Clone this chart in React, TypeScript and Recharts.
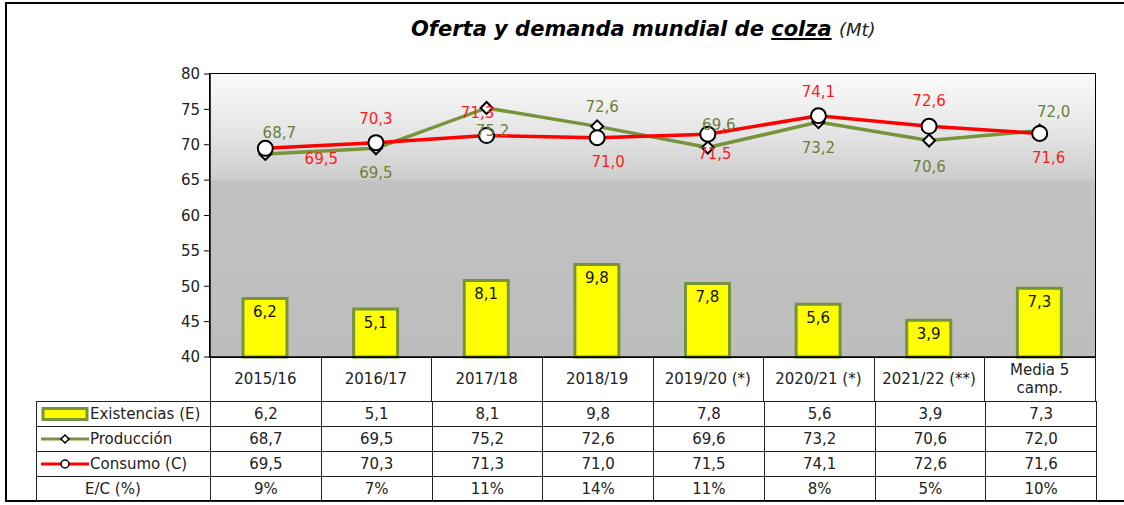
import React from 'react';
import {
  Bar,
  CartesianGrid,
  ComposedChart,
  LabelList,
  Line,
  XAxis,
  YAxis,
} from 'recharts';

const categories = [
  '2015/16',
  '2016/17',
  '2017/18',
  '2018/19',
  '2019/20 (*)',
  '2020/21 (*)',
  '2021/22 (**)',
  'Media 5\ncamp.',
];
const existencias = [6.2, 5.1, 8.1, 9.8, 7.8, 5.6, 3.9, 7.3];
const produccion = [68.7, 69.5, 75.2, 72.6, 69.6, 73.2, 70.6, 72.0];
const consumo = [69.5, 70.3, 71.3, 71.0, 71.5, 74.1, 72.6, 71.6];
const ratioEC = ['9%', '7%', '11%', '14%', '11%', '8%', '5%', '10%'];
const yTicks = [40, 45, 50, 55, 60, 65, 70, 75, 80];

const data = categories.map((cat, i) => ({
  cat,
  existencias: existencias[i],
  produccion: produccion[i],
  consumo: consumo[i],
}));

// label nudges (px), one per point
const prodLabelShift = [[14, -21], [0, 25], [6, 23], [5, -19], [11, -23], [0, 26], [0, 26], [14, -19]];
const consLabelShift = [[56, 11], [0, -24], [-9, -23], [11, 24], [7, 20], [0, -24], [0, -25], [9, 25]];

const FONT = '"DejaVu Sans", sans-serif';
const OLIVE = '#77933c';
const PLOT_LEFT = 210;
const PLOT_RIGHT = 1095;
const PLOT_TOP = 74;
const PLOT_BOTTOM = 357;
const COL_W = (PLOT_RIGHT - PLOT_LEFT) / categories.length;

const fmt = (v: number) => v.toFixed(1).replace('.', ',');

function Diamond(props: any) {
  const { cx, cy, index } = props;
  if (cx == null || cy == null) return <g key={index} />;
  const s = 6;
  return (
    <path
      key={index}
      d={`M${cx},${cy - s}L${cx + s},${cy}L${cx},${cy + s}L${cx - s},${cy}Z`}
      fill="#fff"
      stroke="#000"
      strokeWidth={2}
    />
  );
}

function Circle(props: any) {
  const { cx, cy, index } = props;
  if (cx == null || cy == null) return <g key={index} />;
  return <circle key={index} cx={cx} cy={cy} r={7.5} fill="#fff" stroke="#000" strokeWidth={2} />;
}

function makeLabel(shift: number[][], color: string) {
  return (props: any) => {
    const { x, y, value, index } = props;
    const [dx, dy] = shift[index] || [0, -20];
    return (
      <text
        key={index}
        x={x + dx}
        y={y + dy}
        textAnchor="middle"
        dominantBaseline="central"
        fill={color}
        fontSize={15}
        fontFamily={FONT}
      >
        {fmt(value)}
      </text>
    );
  };
}

function CategoryTick(props: any) {
  const { x, payload } = props;
  const lines = String(payload.value).split('\n');
  const mid = PLOT_BOTTOM + 22;
  return (
    <text x={x} textAnchor="middle" fill="#222" fontSize={15} fontFamily={FONT}>
      {lines.map((l, i) => (
        <tspan key={i} x={x} y={mid + (i - (lines.length - 1) / 2) * 18} dominantBaseline="central">
          {l}
        </tspan>
      ))}
    </text>
  );
}

const cell: React.CSSProperties = {
  borderRight: '1px solid #222',
  borderBottom: '1px solid #222',
  display: 'flex',
  alignItems: 'center',
  justifyContent: 'center',
  fontSize: 15,
  color: '#222',
  boxSizing: 'border-box',
  whiteSpace: 'nowrap',
};

function LegendIcon({ kind }: { kind: 'bar' | 'prod' | 'cons' }) {
  return (
    <svg width={48} height={14} style={{ marginRight: 1, flex: 'none' }}>
      {kind === 'bar' && <rect x={2} y={1.5} width={44} height={11} fill="#ffff00" stroke={OLIVE} strokeWidth={3} />}
      {kind === 'prod' && (
        <>
          <line x1={0} y1={7} x2={48} y2={7} stroke={OLIVE} strokeWidth={3} />
          <path d="M24,3L28,7L24,11L20,7Z" fill="#fff" stroke="#000" strokeWidth={1.5} />
        </>
      )}
      {kind === 'cons' && (
        <>
          <line x1={0} y1={7} x2={48} y2={7} stroke="#ff0000" strokeWidth={3} />
          <circle cx={24} cy={7} r={4} fill="#fff" stroke="#000" strokeWidth={1.5} />
        </>
      )}
    </svg>
  );
}

export default function App() {
  const rows: { label: React.ReactNode; values: string[] }[] = [
    {
      label: (
        <>
          <LegendIcon kind="bar" />
          Existencias (E)
        </>
      ),
      values: existencias.map(fmt),
    },
    {
      label: (
        <>
          <LegendIcon kind="prod" />
          Producción
        </>
      ),
      values: produccion.map(fmt),
    },
    {
      label: (
        <>
          <LegendIcon kind="cons" />
          Consumo (C)
        </>
      ),
      values: consumo.map(fmt),
    },
    { label: <span style={{ marginLeft: 44 }}>E/C (%)</span>, values: ratioEC },
  ];

  return (
    <div
      style={{
        position: 'absolute',
        left: 0,
        top: 0,
        width: 1124,
        height: 505,
        overflow: 'hidden',
        background: '#fff',
        fontFamily: FONT,
      }}
    >
      <div
        style={{
          position: 'absolute',
          left: 5,
          top: 2,
          width: 1140,
          height: 500,
          border: '2px solid #000',
          boxSizing: 'border-box',
        }}
      />
      <div
        style={{
          position: 'absolute',
          left: 411,
          top: 17,
          whiteSpace: 'nowrap',
          fontSize: 21,
          fontWeight: 700,
          fontStyle: 'italic',
          color: '#000',
        }}
      >
        Oferta y demanda mundial de <span style={{ textDecoration: 'underline' }}>colza</span>{' '}
        <span style={{ fontWeight: 400, fontSize: 18, color: '#222' }}>(Mt)</span>
      </div>

      <div style={{ position: 'absolute', left: 0, top: 0 }}>
        <ComposedChart
          width={1124}
          height={505}
          data={data}
          margin={{ top: PLOT_TOP, right: 1124 - PLOT_RIGHT, bottom: 505 - PLOT_BOTTOM - 44, left: PLOT_LEFT - 60 }}
        >
          <defs>
            <linearGradient id="plotBg" x1="0" y1="0" x2="0" y2="1">
              <stop offset="0" stopColor="#fbfbfb" />
              <stop offset="0.2" stopColor="#e6e6e6" />
              <stop offset="0.37" stopColor="#cdcdcd" />
              <stop offset="0.38" stopColor="#c2c2c2" />
              <stop offset="1" stopColor="#bdbdbd" />
            </linearGradient>
          </defs>
          <CartesianGrid
            vertical={false}
            fill="url(#plotBg)"
            fillOpacity={1}
            stroke="#fff"
            strokeWidth={3}
            horizontalValues={[45, 50, 55, 60, 65, 70, 75]}
          />
          <XAxis
            dataKey="cat"
            height={44}
            axisLine={{ stroke: '#000', strokeWidth: 1.5 }}
            tickLine={false}
            tickSize={0}
            interval={0}
            tick={<CategoryTick />}
          />
          <YAxis
            yAxisId="mt"
            width={60}
            domain={[40, 80]}
            ticks={yTicks}
            interval={0}
            axisLine={{ stroke: '#000', strokeWidth: 1.5 }}
            tickLine={{ stroke: '#000' }}
            tickSize={6}
            tickMargin={4}
            tick={{ fill: '#222', fontSize: 15, fontFamily: FONT }}
          />
          <YAxis yAxisId="stk" orientation="right" hide domain={[0, 30]} />
          <Bar
            yAxisId="stk"
            dataKey="existencias"
            barSize={44}
            fill="#ffff00"
            stroke={OLIVE}
            strokeWidth={3}
            isAnimationActive={false}
          >
            <LabelList
              dataKey="existencias"
              position="insideTop"
              offset={8}
              formatter={(v: any) => fmt(Number(v))}
              fill="#111"
              fontSize={15}
              fontFamily={FONT}
            />
          </Bar>
          <Line
            yAxisId="mt"
            dataKey="produccion"
            stroke={OLIVE}
            strokeWidth={3.5}
            dot={Diamond}
            activeDot={false}
            label={makeLabel(prodLabelShift, '#6b7f3a')}
            isAnimationActive={false}
          />
          <Line
            yAxisId="mt"
            dataKey="consumo"
            stroke="#ff0000"
            strokeWidth={3.5}
            dot={Circle}
            activeDot={false}
            label={makeLabel(consLabelShift, '#ff1a1a')}
            isAnimationActive={false}
          />
        </ComposedChart>
      </div>

      {/* plot frame */}
      <div
        style={{
          position: 'absolute',
          left: PLOT_LEFT - 1,
          top: PLOT_TOP - 1,
          width: PLOT_RIGHT - PLOT_LEFT + 2,
          height: PLOT_BOTTOM - PLOT_TOP + 2,
          border: '1.5px solid #000',
          boxSizing: 'border-box',
          pointerEvents: 'none',
        }}
      />

      {/* header column lines */}
      {categories.map((c, i) => (
        <div
          key={c}
          style={{
            position: 'absolute',
            left: PLOT_LEFT + i * COL_W,
            top: PLOT_BOTTOM,
            width: 1,
            height: 44,
            background: '#222',
          }}
        />
      ))}
      <div
        style={{
          position: 'absolute',
          left: PLOT_RIGHT,
          top: PLOT_BOTTOM,
          width: 1,
          height: 44,
          background: '#222',
        }}
      />

      {/* data table */}
      <div
        style={{
          position: 'absolute',
          left: 36,
          top: 401,
          width: PLOT_RIGHT + 1 - 36,
          display: 'grid',
          gridTemplateColumns: `${PLOT_LEFT - 36}px repeat(${categories.length}, 1fr)`,
          gridAutoRows: 25,
          borderLeft: '1px solid #222',
          borderTop: '1px solid #222',
        }}
      >
        {rows.map((r, ri) => (
          <React.Fragment key={ri}>
            <div style={{ ...cell, justifyContent: 'flex-start', paddingLeft: 4 }}>{r.label}</div>
            {r.values.map((v, ci) => (
              <div key={ci} style={cell}>
                {v}
              </div>
            ))}
          </React.Fragment>
        ))}
      </div>
    </div>
  );
}
